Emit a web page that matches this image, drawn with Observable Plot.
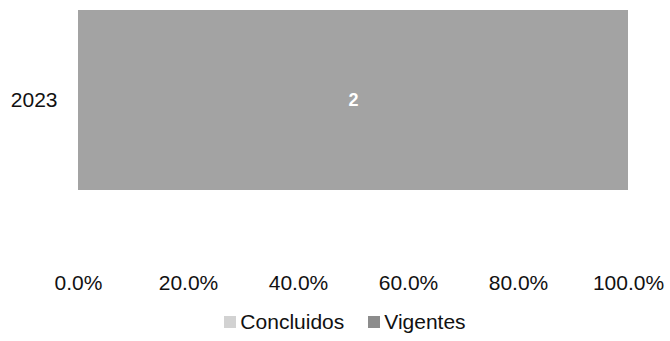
<!DOCTYPE html>
<html>
<head>
<meta charset="utf-8">
<script src="https://cdn.jsdelivr.net/npm/d3@7"></script>
<script src="https://cdn.jsdelivr.net/npm/@observablehq/plot@0.6"></script>
<style>
  html, body { margin: 0; padding: 0; background: #fff; }
  body { width: 670px; height: 341px; overflow: hidden; font-family: "Liberation Sans", Arial, sans-serif; }
  #legend { display: flex; justify-content: center; align-items: center; gap: 24px; margin-top: 10px; padding-left: 20px; font-size: 21px; color: #111; line-height: 24px; }
  .item { display: flex; align-items: center; gap: 4px; }
  .sw { width: 12px; height: 12px; display: inline-block; }
</style>
</head>
<body>
<div id="chart"></div>
<script>
const years = ["2023"];
const series = ["Concluidos", "Vigentes"];
const concluidos = [0];
const vigentes = [2];
const colors = ["#d2d2d2", "#a3a3a3"];

const data = [];
years.forEach((y, i) => {
  data.push({ year: y, serie: "Concluidos", value: concluidos[i] });
  data.push({ year: y, serie: "Vigentes", value: vigentes[i] });
});

const chart = Plot.plot({
  width: 670,
  height: 300,
  marginLeft: 78,
  marginRight: 42,
  marginTop: 10,
  marginBottom: 110,
  style: { fontFamily: "Liberation Sans, Arial, sans-serif", fontSize: "21px", color: "#111", background: "#fff" },
  x: { domain: [0, 1], ticks: [0, 0.2, 0.4, 0.6, 0.8, 1], tickFormat: d3.format(".1%"), label: null },
  y: { domain: years, padding: 0, label: null },
  color: { domain: series, range: colors },
  marks: [
    Plot.barX(data, Plot.stackX({ x: "value", y: "year", fill: "serie", offset: "normalize", order: series })),
    Plot.text(data, Plot.stackX({ x: "value", y: "year", z: "serie", offset: "normalize", order: series, text: d => d.value > 0 ? String(d.value) : "", fill: "white", fontWeight: "bold", fontSize: 18 })),
    Plot.axisX({ ticks: [0, 0.2, 0.4, 0.6, 0.8, 1], tickFormat: d3.format(".1%"), tickSize: 0, tickPadding: 85, label: null, fontSize: 21 }),
    Plot.axisY({ tickSize: 0, tickPadding: 21, label: null, fontSize: 21 })
  ]
});
document.getElementById("chart").appendChild(chart);

const legend = document.createElement("div");
legend.id = "legend";
series.forEach((s, i) => {
  const it = document.createElement("span");
  it.className = "item";
  const sw = document.createElement("span");
  sw.className = "sw";
  sw.style.background = i === 0 ? colors[0] : "#8c8c8c";
  it.appendChild(sw);
  it.appendChild(document.createTextNode(s));
  legend.appendChild(it);
});
document.body.appendChild(legend);
</script>
</body>
</html>
